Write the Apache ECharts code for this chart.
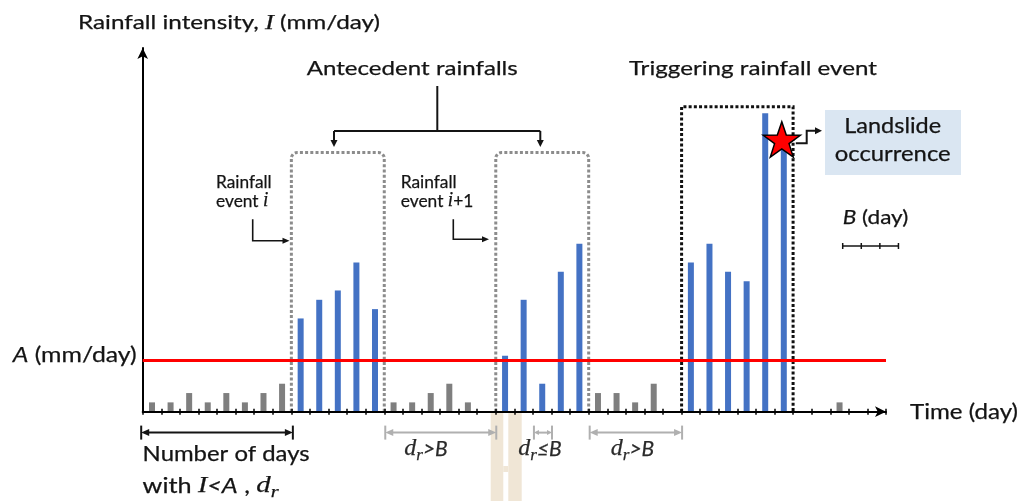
<!DOCTYPE html>
<html>
<head>
<meta charset="utf-8">
<script src="https://cdn.jsdelivr.net/npm/echarts@6/dist/echarts.min.js"></script>
<style>html,body{margin:0;padding:0;background:#fff}#c{width:1018px;height:501px}</style>
</head>
<body>
<div id="c"></div>
<script>
// ---------------- data ----------------
// days with rainfall intensity below the threshold A (gray bars)
const lowDays = [0, 1, 2, 3, 4, 5, 6, 7, 13, 14, 15, 16, 17, 24, 25, 26, 27, 37];
const lowVals = [1, 1, 2, 1, 2, 1, 2, 3, 1, 1, 2, 3, 1, 2, 2, 1, 3, 1];
// rainfall event i
const evIDays = [8, 9, 10, 11, 12];
const evIVals = [10, 12, 13, 16, 11];
// rainfall event i+1
const evI1Days = [19, 20, 21, 22, 23];
const evI1Vals = [6, 12, 3, 15, 18];
// triggering rainfall event
const trigDays = [29, 30, 31, 32, 33, 34];
const trigVals = [16, 18, 15, 14, 32, 29];
// threshold A (mm/day)
const thresholdA = 5.5;
// axis extents
const timeMax = 40;
const intensityMax = 39;
// event boxes: [startDay, endDay], top intensity
const boxSpans = [[8, 13], [19, 24], [29, 35]];
const boxTops = [27.8, 27.8, 32.7];
// dry spells d_r
const countSpan = [0, 8];
const drSpans = [[13, 19], [21, 22], [24, 29]];
const drLabels = ['>B', '\u2264B', '>B'];
// landslide occurrence
const landslideDay = 34;
const landslideAt = 29;
// B (day) scale
const bDays = 3;

// ---------------- chart ----------------
const chart = echarts.init(document.getElementById('c'), null, {renderer: 'canvas', width: 1018, height: 501});
const BLUE = '#4472c4', GRAY = '#7f7f7f';
function barSeries(days, vals, color) {
  return {
    type: 'bar', data: days.map((d, i) => [d + 0.5, vals[i]]),
    barWidth: 6, barGap: '-100%', itemStyle: {color}, z: 3, silent: true
  };
}
chart.setOption({
  animation: false,
  grid: {left: 142.7, right: 132, top: 48, bottom: 89.3, containLabel: false, outerBoundsMode: 'none'},
  xAxis: [
    {type: 'value', min: 0, max: timeMax, interval: 1, z: 4,
     axisLine: {show: true, onZero: false, lineStyle: {color: '#000', width: 2}, symbol: ['none', 'arrow'], symbolSize: [8, 11]},
     axisTick: {show: true, length: 3, lineStyle: {color: '#000', width: 1.5}},
     axisLabel: {show: false}, splitLine: {show: false}},
    {type: 'value', min: 0, max: timeMax, interval: 1, position: 'bottom', z: 4,
     axisLine: {show: false},
     axisTick: {show: true, inside: true, length: 3, lineStyle: {color: '#000', width: 1.5}},
     axisLabel: {show: false}, splitLine: {show: false}}
  ],
  yAxis: {type: 'value', min: 0, max: intensityMax, z: 4,
    axisLine: {show: true, onZero: false, lineStyle: {color: '#000', width: 2}, symbol: ['none', 'arrow'], symbolSize: [8, 11]},
    axisTick: {show: false}, axisLabel: {show: false}, splitLine: {show: false}},
  series: [
    barSeries(lowDays, lowVals, GRAY),
    barSeries(evIDays, evIVals, BLUE),
    barSeries(evI1Days, evI1Vals, BLUE),
    barSeries(trigDays, trigVals, BLUE),
    {type: 'line', data: [[0, thresholdA], [timeMax, thresholdA]], symbol: 'none',
     lineStyle: {color: '#ff0000', width: 3}, z: 5, silent: true}
  ]
});

// ---------------- annotations ----------------
const P = (x, y) => chart.convertToPixel({gridIndex: 0}, [x, y]);
const ctx = document.createElement('canvas').getContext('2d');
const SANS = 'Lato', SERIF = 'Liberation Serif';
const S = (size, italic) => ({size, italic: !!italic, family: SANS});
const M = (size) => ({size, italic: true, family: SERIF});
const SUB = (size) => ({size, italic: true, family: SERIF, sub: true});
const INK = '#141414';

function T(x, y, segs, o) {
  o = o || {};
  let txt = '', width = 0;
  const rich = {};
  const col = o.color || INK;
  segs.forEach((sg, i) => {
    const s = sg[1], k = 's' + i;
    rich[k] = {
      fontSize: s.size, fontFamily: s.family, fontStyle: s.italic ? 'italic' : 'normal',
      fill: col, stroke: col, lineWidth: o.bold === undefined ? 0.25 : o.bold,
      verticalAlign: s.sub ? 'bottom' : 'middle',
      lineHeight: s.sub ? 15 : Math.round(s.size * 1.25)
    };
    txt += '{' + k + '|' + sg[0] + '}';
    ctx.font = (s.italic ? 'italic ' : '') + s.size + 'px "' + s.family + '"';
    width += ctx.measureText(sg[0]).width;
  });
  const sx = o.sx ? o.sx : (o.w ? o.w / width : 1);
  const al = o.align || 'left';
  return {type: 'text', x, y, scaleX: sx, z: 70, silent: true,
    style: {text: txt, rich, align: al, textAlign: al, verticalAlign: 'middle', textVerticalAlign: 'middle', fill: col}};
}
function head(x, y, dx, dy, len, wid, color) {
  const L = Math.hypot(dx, dy); dx /= L; dy /= L;
  const bx = x - dx * len, by = y - dy * len, px = -dy * wid / 2, py = dx * wid / 2;
  return {type: 'polygon', z: 60, silent: true, shape: {points: [[x, y], [bx + px, by + py], [bx - px, by - py]]}, style: {fill: color}};
}
function poly(points, color, w, dash, z) {
  return {type: 'polyline', z: z || 60, silent: true, shape: {points},
    style: {stroke: color, lineWidth: w, fill: null, lineDash: dash || null}};
}
function arrowLine(points, color, w, len, wid) {
  const n = points.length;
  const [x1, y1] = points[n - 2], [x2, y2] = points[n - 1];
  const L = Math.hypot(x2 - x1, y2 - y1);
  const pts = points.slice();
  pts[n - 1] = [x2 - (x2 - x1) / L * len * 0.7, y2 - (y2 - y1) / L * len * 0.7];
  return [poly(pts, color, w), head(x2, y2, x2 - x1, y2 - y1, len, wid, color)];
}
function spanArrow(xa, xb, y, color, w, len, wid, bh) {
  return [
    poly([[xa + len * 0.7, y], [xb - len * 0.7, y]], color, w),
    head(xa, y, -1, 0, len, wid, color), head(xb, y, 1, 0, len, wid, color),
    poly([[xa, y - bh], [xa, y + bh]], color, w), poly([[xb, y - bh], [xb, y + bh]], color, w)
  ];
}
// open-bottom box outline with optional rounded top corners
function boxPoints(x0, x1, yb, yt, r) {
  const pts = [[x0, yb]];
  if (r > 0) {
    for (let k = 0; k <= 6; k++) { const a = Math.PI - k * Math.PI / 12; pts.push([x0 + r + r * Math.cos(a), yt + r - r * Math.sin(a)]); }
    for (let k = 0; k <= 6; k++) { const a = Math.PI / 2 - k * Math.PI / 12; pts.push([x1 - r + r * Math.cos(a), yt + r - r * Math.sin(a)]); }
  } else {
    pts.push([x0, yt], [x1, yt]);
  }
  pts.push([x1, yb]);
  return pts;
}

const els = [];
// faint tan artefact below the axis
const TAN = '#f0e6d6';
els.push({type: 'rect', z: -5, silent: true, shape: {x: 490.7, y: 413, width: 12.6, height: 88}, style: {fill: TAN}});
els.push({type: 'rect', z: -5, silent: true, shape: {x: 508.3, y: 413, width: 13.4, height: 88}, style: {fill: TAN}});
els.push({type: 'rect', z: -5, silent: true, shape: {x: 503.3, y: 466, width: 5, height: 6}, style: {fill: TAN}});

// dotted event boxes
const yBase = P(0, 0)[1];
boxSpans.forEach((sp, i) => {
  const x0 = P(sp[0], 0)[0], x1 = P(sp[1], 0)[0], yt = P(0, boxTops[i])[1];
  const trig = i === 2;
  els.push(poly(boxPoints(x0, x1, yBase, yt, trig ? 0 : 6), trig ? '#111' : '#8c8c8c', 3, [3, 2.2], 1));
});

// bracket for antecedent rainfalls
els.push(poly([[437.3, 86], [437.3, 131]], INK, 2));
els.push(poly([[334, 131], [540.3, 131]], INK, 2));
els.push(...arrowLine([[334, 131], [334, 147]], INK, 2, 7, 7));
els.push(...arrowLine([[540.3, 131], [540.3, 147]], INK, 2, 7, 7));

// event pointers
els.push(...arrowLine([[252.7, 219.3], [252.7, 240.7], [289.5, 240.7]], INK, 1.6, 7, 6));
els.push(...arrowLine([[453.3, 219.3], [453.3, 239.3], [489, 239.3]], INK, 1.6, 7, 6));

// landslide box, star and connector
els.push({type: 'rect', z: 40, silent: true, shape: {x: 825, y: 110, width: 136, height: 65}, style: {fill: '#dae6f2'}});
const sc = P(landslideDay + 0.5, landslideAt);
const R = 19.5, Ri = R * 0.39;
const starPts = [];
for (let k = 0; k < 10; k++) {
  const a = -Math.PI / 2 + k * Math.PI / 5, r = k % 2 ? Ri : R;
  starPts.push([sc[0] - 2 + r * Math.cos(a), sc[1] + r * Math.sin(a)]);
}
els.push(...arrowLine([[sc[0] + 12, sc[1] + 2], [806.7, sc[1] + 2], [806.7, 130.7], [822, 130.7]], INK, 2, 7, 7));
els.push({type: 'polygon', z: 65, silent: true, shape: {points: starPts}, style: {fill: '#ff0000', stroke: '#000', lineWidth: 1.5, lineJoin: 'miter'}});

// B (day) scale bar
const dayPx = P(1, 0)[0] - P(0, 0)[0];
const bx0 = 842.7, by = 246;
els.push(poly([[bx0, by], [bx0 + bDays * dayPx, by]], INK, 1.5));
for (let k = 0; k <= bDays; k++) els.push(poly([[bx0 + k * dayPx, by - 3], [bx0 + k * dayPx, by + 3]], INK, 1.5));

// dry spell arrows
const ya = 432.6;
els.push(...spanArrow(P(countSpan[0], 0)[0] - 1.5, P(countSpan[1], 0)[0] + 1.5, ya, INK, 2, 8, 7, 7));
const LG = '#b0b0b0';
drSpans.forEach(sp => {
  const xa = P(sp[0], 0)[0] + 1, xb = P(sp[1], 0)[0] + 0.5;
  const small = sp[1] - sp[0] < 2;
  els.push(...spanArrow(xa, xb, ya, LG, 2, small ? 5 : 8, small ? 5 : 7, 7));
});

// texts
els.push(T(78, 23, [['Rainfall intensity, ', S(20)], ['I', M(22)], [' (mm/day)', S(20)]], {w: 302}));
els.push(T(306.7, 69, [['Antecedent rainfalls', S(20)]], {w: 211}));
els.push(T(629, 69, [['Triggering rainfall event', S(20)]], {w: 248}));
els.push(T(216, 182, [['Rainfall', S(18)]], {w: 55.7}));
els.push(T(216, 201, [['event ', S(18)], ['i', M(20)]], {w: 52.3}));
els.push(T(400.7, 182, [['Rainfall', S(18)]], {w: 56}));
els.push(T(400.7, 201, [['event ', S(18)], ['i', M(20)], ['+1', S(18)]], {w: 72.6}));
els.push(T(892.7, 126, [['Landslide', S(22)]], {align: 'center', w: 97}));
els.push(T(892.7, 154, [['occurrence', S(22)]], {align: 'center', w: 116}));
els.push(T(842.7, 218, [['B', S(20, true)], [' (day)', S(20)]], {w: 65.6}));
els.push(T(12.7, 355, [['A', S(22, true)], [' (mm/day)', S(22)]], {w: 124}));
els.push(T(910, 412, [['Time (day)', S(21)]], {w: 108}));
els.push(T(142.6, 454, [['Number of days', S(21)]], {w: 167}));
els.push(T(142.6, 486, [['with ', S(21)], ['I', M(23)], ['<A', S(21, true)], [' , ', S(21)], ['d', M(24)], ['r', SUB(17)]], {sx: 1.2}));
const drLabelX = [426, 540, 632.5];
drSpans.forEach((sp, i) => {
  els.push(T(drLabelX[i], 449, [['d', M(24)], ['r', SUB(17)], [drLabels[i], S(21, true)]], {align: 'center', color: '#2a2a2a'}));
});

chart.setOption({graphic: {elements: els}});
</script>
</body>
</html>
